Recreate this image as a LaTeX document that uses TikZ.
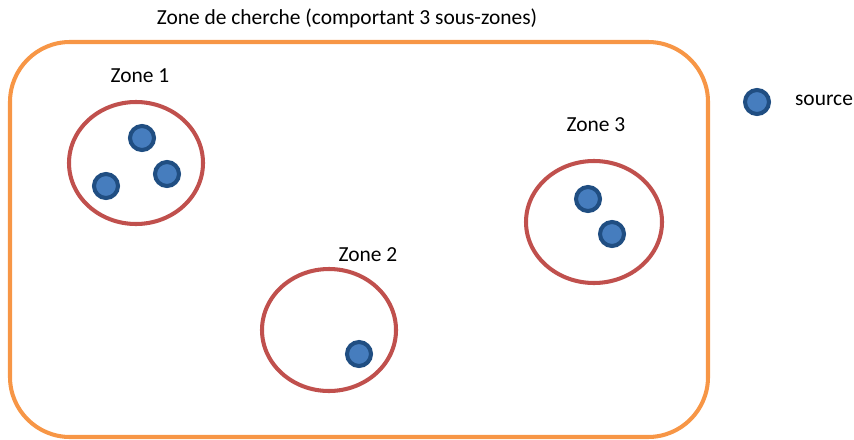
\documentclass[tikz,border=0pt]{standalone}
\usepackage{fontspec}
\setmainfont{Carlito}
\usepackage{tikz}
\definecolor{zoneorange}{RGB}{247,150,70}
\definecolor{zonered}{RGB}{192,80,77}
\definecolor{srcblue}{RGB}{70,125,190}
\definecolor{srcborder}{RGB}{32,78,130}

\tikzset{
	src/.style={circle, fill=srcblue, draw=srcborder, line width=2.3pt, minimum size=0.48cm, inner sep=0pt},
	zonelabel/.style={font=\fontsize{12.2}{14}\selectfont},
}

\begin{document}
\begin{tikzpicture}[x=0.02cm, y=-0.02cm]
		\useasboundingbox (0,0) rectangle (854,439);
		% zone de recherche
		\draw[zoneorange, line width=2.3pt, rounded corners=1.2cm] (10,42) rectangle (708,437);
		\node[zonelabel] (titre) at (347,18) {Zone de cherche (comportant 3 sous-zones)};
		
		% sous-zones
		\draw[zonered, line width=2.3pt] (136,163) ellipse (67 and 61);
		\draw[zonered, line width=2.3pt] (329,330) ellipse (67 and 61);
		\draw[zonered, line width=2.3pt] (594,222) ellipse (68 and 61);
		\node[zonelabel] (z1) at (140,76) {Zone 1};
		\node[zonelabel] (z2) at (368,255) {Zone 2};
		\node[zonelabel] (z3) at (596,125) {Zone 3};
		
		% sources
		\node[src] (s1) at (142,138) {};
		\node[src] (s2) at (167,174) {};
		\node[src] (s3) at (106,186) {};
		\node[src] (s4) at (359,354) {};
		\node[src] (s5) at (588,199) {};
		\node[src] (s6) at (612,234) {};
		
		% legende
		\node[src] (leg) at (757,102) {};
		\node[zonelabel] (legtxt) at (824,100) {source};
\end{tikzpicture}
\end{document}
